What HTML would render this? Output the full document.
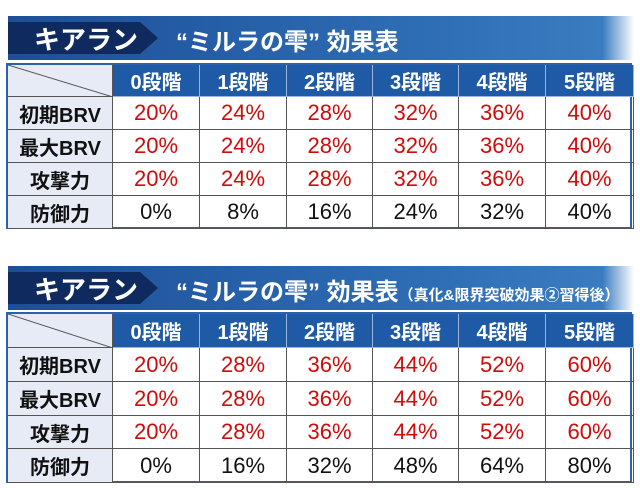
<!DOCTYPE html>
<html><head><meta charset="utf-8">
<style>
body{margin:0;width:640px;height:488px;background:#fff;position:relative;overflow:hidden;font-family:"Liberation Sans","Noto Sans CJK JP",sans-serif;}
.banner{position:absolute;left:8px;width:626px;background:linear-gradient(to right,#1d4f98,#2f6fb6 70%,#3b7cc0 95%,#fff);}
.dark{position:absolute;left:0;top:6px;bottom:6px;width:150px;background:#0f2a5e;clip-path:polygon(0 0,88% 0,100% 50%,88% 100%,0 100%);}
.bt{position:absolute;color:#fff;font-weight:bold;white-space:nowrap;}
.tbl{position:absolute;left:6px;width:626px;border:2px solid #2a62ad;box-sizing:border-box;}
.c{position:absolute;box-sizing:border-box;display:flex;align-items:center;justify-content:center;font-weight:bold;font-size:20px;border-right:1px solid #555;border-bottom:1px solid #555;}
.h{background:#1f5aa6;color:#fff;border-color:#9bb6dc;}
.l{background:#e6ebf6;color:#111;}
.r{color:#d10a0a;font-weight:normal;font-size:22px;}
.k{color:#111;font-weight:normal;font-size:22px;}
</style></head><body>
<div id="root"></div>
<script>
const cols=["0段階","1段階","2段階","3段階","4段階","5段階"];
const rows=["初期BRV","最大BRV","攻撃力","防御力"];
const t1=[[20,24,28,32,36,40],[20,24,28,32,36,40],[20,24,28,32,36,40],[0,8,16,24,32,40]];
const t2=[[20,28,36,44,52,60],[20,28,36,44,52,60],[20,28,36,44,52,60],[0,16,32,48,64,80]];
const xs=[0,105,192,279,365,451,538,626];
function build(top,rowsY,vals,sub,bannerTop){
  const b=document.createElement('div');b.className='banner';
  
  
  b.style.top=bannerTop+'px';b.style.height='44px';
  b.innerHTML='<div class="dark"></div><div class="bt" style="left:26px;top:4px;font-size:26px">キアラン</div><div class="bt" style="left:168px;top:6px;font-size:24px">“ミルラの雫” 効果表'+(sub?'<span style="font-size:15px">（真化&amp;限界突破効果②習得後）</span>':'')+'</div>';
  document.body.appendChild(b);
  const t=document.createElement('div');t.className='tbl';
  
  
  t.style.top=top+'px';t.style.height=(rowsY[rowsY.length-1]-top)+'px';
  document.body.appendChild(t);
  function cell(cls,x0,x1,y0,y1,txt,name){
    const c=document.createElement('div');c.className='c '+cls;
    
    
    c.style.left=x0+'px';c.style.width=(x1-x0)+'px';c.style.top=(y0-top-2)+'px';c.style.height=(y1-y0)+'px';
    c.textContent=txt;t.appendChild(c);
  }
  cell('l',0,xs[1],top+2,rowsY[0],'','corner-cell');
  const s=document.createElementNS('http://www.w3.org/2000/svg','svg');
  s.setAttribute('width',xs[1]);s.setAttribute('height',rowsY[0]-top-2);
  s.style.position='absolute';s.style.left='0';s.style.top='0';
  s.innerHTML='<line x1="0" y1="0" x2="'+xs[1]+'" y2="'+(rowsY[0]-top-2)+'" stroke="#555"/>';
  t.appendChild(s);
  cols.forEach((c,i)=>cell('h',xs[i+1],xs[i+2],top+2,rowsY[0],c,'column-header'));
  rows.forEach((r,j)=>{
    cell('l',0,xs[1],rowsY[j],rowsY[j+1],r,'row-label');
    vals[j].forEach((v,i)=>cell(j<3?'r':'k',xs[i+1],xs[i+2],rowsY[j],rowsY[j+1],v+'%','value-cell'));
  });
}
build(63,[97,130,163,196,229],t1,false,16);
build(312,[348,382,416,449,483],t2,true,266);
</script>
</body></html>
